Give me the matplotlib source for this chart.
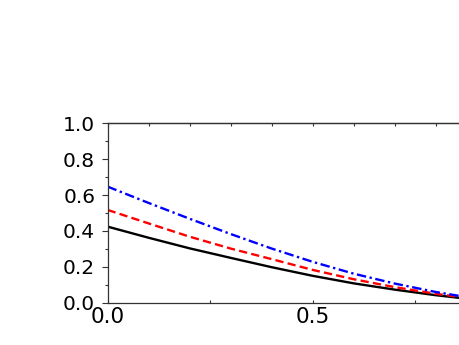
import numpy as np
import matplotlib
matplotlib.use("Agg")
import matplotlib.pyplot as plt
from matplotlib.ticker import MultipleLocator

# values
x = [0.0, 0.1, 0.2, 0.3, 0.4, 0.5, 0.6, 0.7, 0.8, 0.9, 1.0]
black = [0.424, 0.362, 0.303, 0.250, 0.198, 0.150, 0.108, 0.073, 0.042, 0.016, 0.0]
red = [0.517, 0.442, 0.368, 0.302, 0.243, 0.183, 0.131, 0.087, 0.050, 0.019, 0.0]
blue = [0.647, 0.556, 0.468, 0.383, 0.302, 0.228, 0.162, 0.107, 0.060, 0.022, 0.0]

# only 0.0 and 0.5 fall inside the picture
xticks = [0.0, 0.5]
yticks = [0.0, 0.2, 0.4, 0.6, 0.8, 1.0]

plt.rcParams['font.family'] = ['DejaVu Sans']

fig = plt.figure(figsize=(4.6, 3.45), dpi=100)
# the axes run past the right edge of the picture, as in the reference
ax = fig.add_axes([0.234, 0.1226, 0.891, 0.52])

ax.plot(x, black, color='black', lw=1.7)
ax.plot(x, red, color='#ff0000', lw=1.7, ls=(0, (3.5, 1.8)))
ax.plot(x, blue, color='#0000ff', lw=1.7, ls=(0, (4.0, 1.5, 1.0, 1.5)))

ax.set_xlim(0, 1)
ax.set_ylim(0, 1)

ax.set_xticks(xticks)
ax.set_xticklabels([f"{v:.1f}" for v in xticks])
ax.xaxis.set_minor_locator(MultipleLocator(0.25))
ax.set_yticks(yticks)
ax.set_yticklabels([f"{v:.1f}" for v in yticks])
ax.yaxis.set_minor_locator(MultipleLocator(0.1))

for s in ['left', 'bottom', 'top', 'right']:
    ax.spines[s].set_linewidth(0.9)
    ax.spines[s].set_color('#333333')

ax.tick_params(axis='x', which='both', direction='in', length=2.5, width=0.8,
               colors='#333333', labelcolor='black', labelsize=15.5, pad=3)
ax.tick_params(axis='y', which='major', direction='out', length=4, width=0.8,
               colors='#333333', labelcolor='black', labelsize=14.5, pad=5)
ax.tick_params(axis='y', which='minor', direction='out', length=2.5, width=0.8,
               colors='#333333')

top = ax.secondary_xaxis('top')
top.set_xticks(np.arange(0, 1.01, 0.1))
top.tick_params(direction='in', length=2.5, width=0.8, colors='#333333',
                labeltop=False)
top.spines['top'].set_linewidth(0.9)
top.spines['top'].set_color('#333333')

fig.savefig("out.png", dpi=100)
